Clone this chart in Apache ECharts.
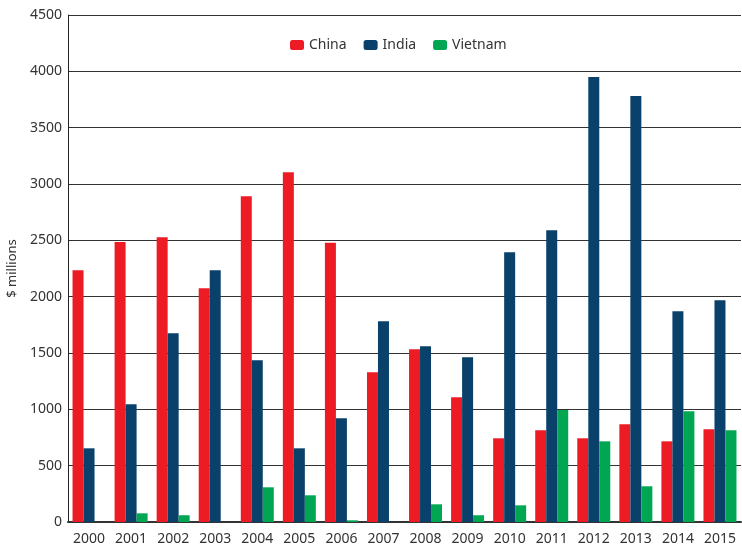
<!DOCTYPE html>
<html><head><meta charset="utf-8">
<script src="https://cdn.jsdelivr.net/npm/echarts@6/dist/echarts.min.js"></script>
<style>html,body{margin:0;padding:0;background:#fff}#c{width:742px;height:549px}</style>
</head><body><div id="c"></div>
<script>
const years = ['2000','2001','2002','2003','2004','2005','2006','2007','2008','2009','2010','2011','2012','2013','2014','2015'];
const china = [2235,2485,2528,2075,2892,3105,2478,1330,1533,1107,743,814,743,867,716,823];
const india = [654,1045,1675,2235,1436,654,921,1782,1560,1462,2395,2590,3949,3780,1871,1969];
const vietnam = [0,77,60,0,308,237,15,0,157,60,148,995,716,317,983,814];
const yTicks = {min:0, max:4500, interval:500};
const seriesNames = ['China','India','Vietnam'];
const colors = ['#ED1C24','#0A416A','#00A651'];
const font = 'Noto Sans';
const chart = echarts.init(document.getElementById('c'), null, {renderer:'canvas'});
chart.setOption({
  animation:false,
  textStyle:{fontFamily:font},
  legend:{
    top:33, left:285, itemWidth:14, itemHeight:10, itemGap:17,
    data:seriesNames,
    textStyle:{fontSize:14, color:'#333', fontFamily:font}
  },
  grid:{left:68, right:1, top:15, bottom:27, containLabel:false, outerBoundsMode:'none'},
  xAxis:{
    type:'category', data:years,
    axisTick:{show:false},
    axisLine:{show:true, lineStyle:{color:'#333', width:2}},
    axisLabel:{fontSize:14, color:'#333', margin:10, fontFamily:font}
  },
  yAxis:{
    type:'value', min:yTicks.min, max:yTicks.max, interval:yTicks.interval,
    name:'$ millions', nameLocation:'middle', nameGap:46, nameRotate:90,
    nameTextStyle:{fontSize:13, color:'#333', fontFamily:font},
    axisLine:{show:true, lineStyle:{color:'#222', width:1}},
    axisTick:{show:false},
    axisLabel:{fontSize:14, color:'#333', margin:6, fontFamily:font, formatter:v=>String(v)},
    splitLine:{show:true, lineStyle:{color:'#333', width:1.2}}
  },
  series:[
    {name:seriesNames[0], type:'bar', data:china, itemStyle:{color:colors[0]}, barWidth:11, barGap:'0%'},
    {name:seriesNames[1], type:'bar', data:india, itemStyle:{color:colors[1]}, barWidth:11, barGap:'0%'},
    {name:seriesNames[2], type:'bar', data:vietnam, itemStyle:{color:colors[2]}, barWidth:11, barGap:'0%'}
  ]
});
</script></body></html>
